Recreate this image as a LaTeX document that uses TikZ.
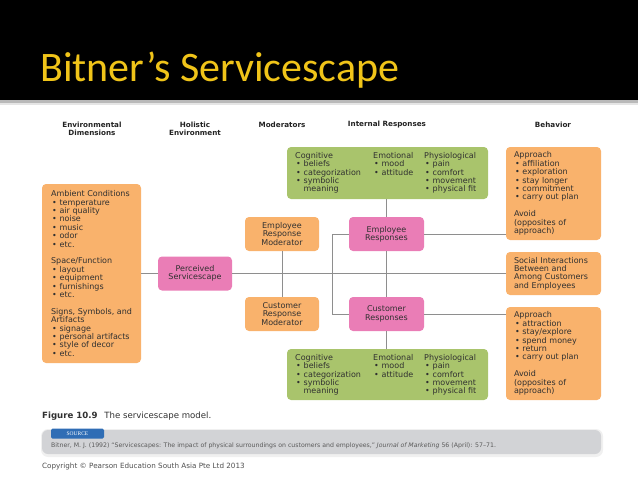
\documentclass[tikz,border=0pt]{standalone}
\usepackage{fontspec}
\setmainfont{DejaVu Sans}
\newfontfamily\titlefont{Carlito}
\newfontfamily\tabfont{Liberation Serif}
\definecolor{boxor}{HTML}{F9B26C}
\definecolor{boxpk}{HTML}{EA7DB6}
\definecolor{boxgr}{HTML}{A9C46C}
\definecolor{txt}{HTML}{303030}
\definecolor{hdrc}{HTML}{222222}
\definecolor{lin}{HTML}{8E8E8E}
\definecolor{ttl}{HTML}{F0C419}
\definecolor{srcbar}{HTML}{D2D3D6}
\definecolor{srctab}{HTML}{2F6DB5}
\newcommand{\bl}{\hspace*{1pt}\makebox[7.5pt][l]{\textbullet}}
\newcommand{\ind}{\hspace*{8.5pt}}
\tikzset{
  basetext/.style={inner sep=0pt, font=\fontsize{8}{8.4}\selectfont, text=txt},
  card/.style={basetext, rounded corners=4pt, draw=none},
  orbox/.style={card, fill=boxor},
  pkbox/.style={card, fill=boxpk},
  grbox/.style={card, fill=boxgr},
  smallbox/.style={minimum width=74pt, minimum height=34pt, align=center},
  behbox/.style={orbox, minimum width=95pt, text width=79pt, align=left},
  hdr/.style={inner sep=0pt, font=\fontsize{7.2}{8}\selectfont\bfseries, text=hdrc, align=center},
  col/.style={basetext, align=left, anchor=north west},
  conn/.style={draw=lin, line width=0.9pt},
}
\begin{document}
\begin{tikzpicture}[x=1pt,y=-1pt]
\useasboundingbox (0,0) rectangle (638,479);
% title bar
\fill[black] (0,0) rectangle (638,100);
\fill[gray!55] (0,100) rectangle (638,103);
\fill[gray!20] (0,103) rectangle (638,105);
\node[anchor=base west, inner sep=0pt, text=ttl, font=\titlefont\fontsize{42}{42}\selectfont] (title) at (40,81) {Bitner’s Servicescape};

% headers
\node[hdr] (hEnv) at (92,129) {Environmental\\Dimensions};
\node[hdr] (hHol) at (195,129) {Holistic\\Environment};
\node[hdr] (hMod) at (282,125) {Moderators};
\node[hdr] (hInt) at (387,125) {Internal Responses};
\node[hdr] (hBeh) at (553,125) {Behavior};

% environmental dimensions
\node[orbox, minimum width=99pt, minimum height=179pt, align=left] (env) at (91.5,273.5)
 {Ambient Conditions\\ \bl temperature\\ \bl air quality\\ \bl noise\\ \bl music\\ \bl odor\\ \bl etc.\\[8.4pt]
  Space/Function\\ \bl layout\\ \bl equipment\\ \bl furnishings\\ \bl etc.\\[8.4pt]
  Signs, Symbols, and\\ Artifacts\\ \bl signage\\ \bl personal artifacts\\ \bl style of decor\\ \bl etc.};

% perceived servicescape
\node[pkbox, smallbox] (perc) at (195,273.5) {Perceived\\Servicescape};

% moderators
\node[orbox, smallbox] (erm) at (282,234) {Employee\\Response\\Moderator};
\node[orbox, smallbox] (crm) at (282,314) {Customer\\Response\\Moderator};

% responses
\node[pkbox, smallbox, minimum width=75pt] (er) at (386.5,234) {Employee\\Responses};
\node[pkbox, smallbox, minimum width=75pt] (cr) at (386.5,314) {Customer\\Responses};

% green internal responses (top)
\node[grbox, minimum width=201pt, minimum height=52pt] (gtop) at (387.5,173) {};
\node[col] (gtopA) at (295,152) {Cognitive\\ \bl beliefs\\ \bl categorization\\ \bl symbolic\\ \ind meaning};
\node[col] (gtopB) at (373,152) {Emotional\\ \bl mood\\ \bl attitude};
\node[col] (gtopC) at (424,152) {Physiological\\ \bl pain\\ \bl comfort\\ \bl movement\\ \bl physical fit};

% green internal responses (bottom)
\node[grbox, minimum width=201pt, minimum height=51pt] (gbot) at (387.5,374.5) {};
\node[col] (gbotA) at (295,354) {Cognitive\\ \bl beliefs\\ \bl categorization\\ \bl symbolic\\ \ind meaning};
\node[col] (gbotB) at (373,354) {Emotional\\ \bl mood\\ \bl attitude};
\node[col] (gbotC) at (424,354) {Physiological\\ \bl pain\\ \bl comfort\\ \bl movement\\ \bl physical fit};

% behavior
\node[behbox, minimum height=93pt] (bta) at (553.5,193.5)
 {Approach\\ \bl affiliation\\ \bl exploration\\ \bl stay longer\\ \bl commitment\\ \bl carry out plan\\[8.4pt]
  Avoid\\ (opposites of\\ approach)};
\node[behbox, minimum height=43pt] (soc) at (553.5,273.5)
 {Social Interactions\\ Between and\\ Among Customers\\ and Employees};
\node[behbox, minimum height=93pt] (bba) at (553.5,353.5)
 {Approach\\ \bl attraction\\ \bl stay/explore\\ \bl spend money\\ \bl return\\ \bl carry out plan\\[8.4pt]
  Avoid\\ (opposites of\\ approach)};

% connectors
\coordinate (bk) at (332,234);
\draw[conn] (env.east) -- (perc.west);
\draw[conn] (perc.east) -- (soc.west);
\draw[conn] (erm.south) -- (crm.north);
\draw[conn] (er.west) -- (bk) |- (cr.west);
\draw[conn] (er.north) -- (er.north |- gtop.south);
\draw[conn] (er.south) -- (cr.north);
\draw[conn] (cr.south) -- (cr.south |- gbot.north);
\draw[conn] (er.east) -- (er.east -| bta.west);
\draw[conn] (cr.east) -- (cr.east -| bba.west);

% caption
\node[anchor=base west, inner sep=0pt, font=\fontsize{8.6}{9}\selectfont, text=txt] (cap) at (42,418)
 {\textbf{Figure 10.9}\hspace{4pt} The servicescape model.};

% source bar
\fill[gray!12, rounded corners=7pt] (41,429) rectangle (603,457);
\node[fill=srcbar, rounded corners=6pt, minimum width=559pt, minimum height=24pt, inner sep=0pt] (srcbar) at (321.5,442) {};
\node[fill=srctab, rounded corners=1.5pt, minimum width=53pt, minimum height=10pt, inner sep=0pt, text=white, font=\tabfont\fontsize{5.5}{5.5}\selectfont] (srctab) at (77.5,433.5) {SOURCE};
\node[anchor=base west, inner sep=0pt, font=\fontsize{6.2}{7}\selectfont, text=txt!80] (srctext) at (51,447.5)
 {Bitner, M. J. (1992) “Servicescapes: The impact of physical surroundings on customers and employees,” \textit{Journal of Marketing} 56 (April): 57–71.};

% copyright
\node[anchor=base west, inner sep=0pt, font=\fontsize{7.2}{8}\selectfont, text=txt!85] (copy) at (42,468.5)
 {Copyright © Pearson Education South Asia Pte Ltd 2013};
\end{tikzpicture}
\end{document}
